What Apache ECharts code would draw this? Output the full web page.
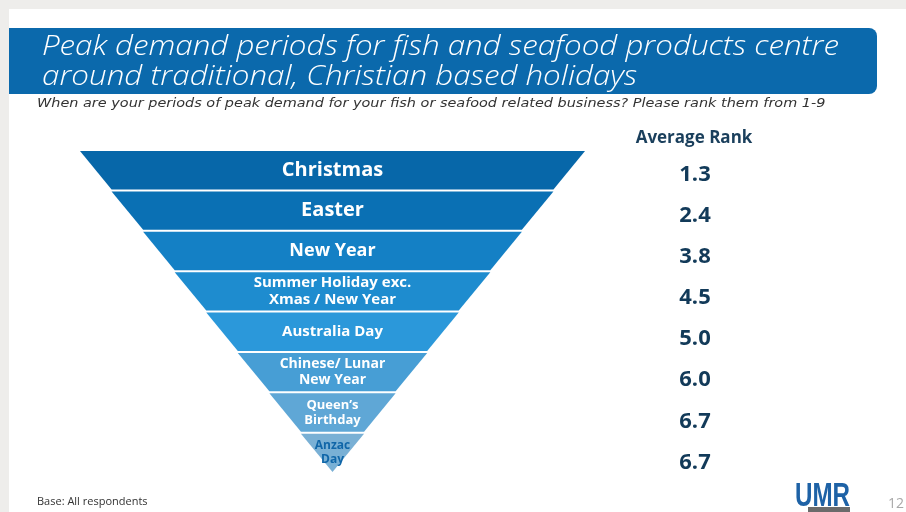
<!DOCTYPE html>
<html>
<head>
<meta charset="utf-8">
<script src="https://cdn.jsdelivr.net/npm/echarts@6/dist/echarts.min.js"></script>
<style>
  html, body { margin: 0; padding: 0; background: #eeedeb; }
  #chart { width: 906px; height: 512px; }
</style>
</head>
<body>
<div id="chart"></div>
<script>
// Holidays, top of the funnel first
const holidays = [
  'Christmas',
  'Easter',
  'New Year',
  'Summer Holiday exc.\nXmas / New Year',
  'Australia Day',
  'Chinese/ Lunar\nNew Year',
  'Queen\u2019s\nBirthday',
  'Anzac\nDay'
];
// Relative width of each funnel layer
const layerWidth = [8, 7, 6, 5, 4, 3, 2, 1];
// Average rank given by respondents (1 = highest demand)
const averageRank = [1.3, 2.4, 3.8, 4.5, 5.0, 6.0, 6.7, 6.7];

const headline = 'Peak demand periods for fish and seafood products centre\naround traditional, Christian based holidays';
const question = 'When are your periods of peak demand for your fish or seafood related business? Please rank them from 1-9';

const layerColors = ['#0767a9', '#0a70b4', '#1480c5', '#1e8ccf', '#2b98da', '#479ed5', '#5fa7d6', '#79b0d5'];
const labelFont = [20, 20, 18, 15, 15, 14, 13, 12];
const labelColor = ['#fff', '#fff', '#fff', '#fff', '#fff', '#fff', '#fff', '#1066a8'];
const FONT = '"Open Sans", "Noto Sans", sans-serif';
const WIDE = '"DejaVu Sans", "Open Sans", sans-serif';

const chart = echarts.init(document.getElementById('chart'), null, { renderer: 'canvas' });

const option = {
  backgroundColor: '#eeedeb',
  animation: false,
  graphic: [
    { type: 'rect', z: -10, silent: true, shape: { x: 9, y: 9, width: 897, height: 503 }, style: { fill: '#ffffff' } },
    { type: 'rect', z: -5, silent: true, shape: { x: 9, y: 28, width: 868, height: 66, r: [0, 8, 8, 0] }, style: { fill: '#0b69ac' } },
    // headline, stretched a little to the width of the banner
    { type: 'text', x: 42, y: 32, scaleX: 1.12, style: { text: headline, font: 'italic 300 28px ' + FONT, lineHeight: 30, fill: '#ffffff' } },
    { type: 'text', x: 37, y: 97, scaleX: 1.11, style: { text: question, font: 'italic 13px ' + WIDE, fill: '#333333' } },
    { type: 'text', left: 37, top: 496, style: { text: 'Base: All respondents', font: '11px ' + FONT, fill: '#333' } },
    { type: 'text', x: 795, y: 480, scaleX: 0.78, scaleY: 1.08, style: { text: 'UMR', font: 'bold 31px "Liberation Sans", sans-serif', fill: '#1e62a6' } },
    { type: 'rect', shape: { x: 808, y: 507, width: 42, height: 5 }, style: { fill: '#6b6b6b' } },
    { type: 'text', left: 888, top: 497, style: { text: '12', font: '14px ' + FONT, fill: '#a8a8a8' } }
  ],
  title: [
    {
      text: 'Average Rank',
      left: 694, top: 130, padding: 0, textAlign: 'center',
      textStyle: { color: '#1a3f5c', fontFamily: FONT, fontWeight: 'bold', fontSize: 17 }
    }
  ],
  grid: { left: 645, width: 100, top: 154, height: 329 },
  xAxis: { type: 'value', min: -1, max: 1, show: false },
  yAxis: { type: 'category', inverse: true, data: holidays, show: false },
  series: [
    {
      type: 'funnel',
      left: 80, top: 151, width: 505, height: 321,
      min: 0, max: 8, minSize: '0%', maxSize: '100%',
      sort: 'none', gap: 2,
      itemStyle: { borderWidth: 0 },
      label: { show: true, position: 'inside', fontFamily: FONT, fontWeight: 'bold', textBorderWidth: 0 },
      labelLine: { show: false },
      data: holidays.map((name, i) => ({
        name: name,
        value: layerWidth[i],
        itemStyle: { color: layerColors[i] },
        label: { fontSize: labelFont[i], lineHeight: Math.round(labelFont[i] * 1.15), color: labelColor[i] }
      }))
    },
    {
      type: 'scatter',
      symbolSize: 0,
      itemStyle: { opacity: 1 },
      data: averageRank.map((r, i) => [0, i]),
      label: {
        show: true, position: 'inside', opacity: 1,
        formatter: p => averageRank[p.dataIndex].toFixed(1),
        fontFamily: FONT, fontWeight: 'bold', fontSize: 22, color: '#123a59',
        textBorderWidth: 0
      }
    }
  ]
};

chart.setOption(option);
</script>
</body>
</html>
